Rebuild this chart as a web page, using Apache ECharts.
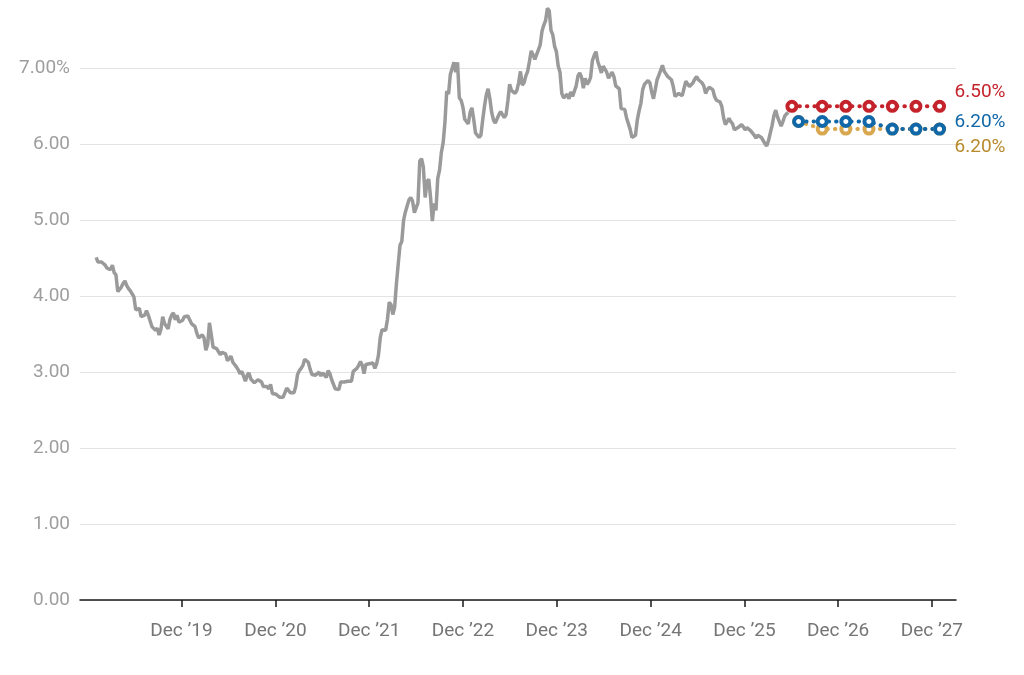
<!DOCTYPE html>
<html>
<head>
<meta charset="utf-8">
<script src="https://cdn.jsdelivr.net/npm/echarts@6/dist/echarts.min.js"></script>
<style>
html, body { margin: 0; padding: 0; background: #fff; }
#main { width: 1024px; height: 675px; }
</style>
</head>
<body>
<div id="main"></div>
<script>
/**
 * 30年固定利率 周数据 + 预测
 */

// weekly rate, one block per year (first Thursday given)
var start2019 = '2019-01-03';
var rates2019 = [4.51, 4.45, 4.45, 4.45, 4.46, 4.41, 4.37, 4.35, 4.35, 4.41, 4.31, 4.28, 4.06,
    4.08, 4.12, 4.17, 4.20, 4.14, 4.10, 4.07, 4.06, 3.99, 3.82, 3.82, 3.84, 3.73,
    3.75, 3.75, 3.81, 3.75, 3.75, 3.60, 3.60, 3.55, 3.58, 3.49, 3.56, 3.73, 3.64,
    3.65, 3.57, 3.69, 3.75, 3.78, 3.69, 3.75, 3.66, 3.68, 3.68, 3.73, 3.73, 3.74];
var start2020 = '2020-01-02';
var rates2020 = [3.72, 3.64, 3.65, 3.60, 3.51, 3.45, 3.47, 3.49, 3.45, 3.29, 3.36, 3.65, 3.50,
    3.33, 3.33, 3.31, 3.33, 3.23, 3.26, 3.28, 3.24, 3.15, 3.18, 3.21, 3.13, 3.13,
    3.07, 3.03, 2.98, 3.01, 2.99, 2.88, 2.96, 2.99, 2.91, 2.93, 2.86, 2.87, 2.90,
    2.88, 2.87, 2.81, 2.80, 2.81, 2.78, 2.84, 2.72, 2.72, 2.71, 2.71, 2.67, 2.66, 2.67];
var start2021 = '2021-01-07';
var rates2021 = [2.65, 2.79, 2.77, 2.73, 2.73, 2.73, 2.81, 2.97, 3.02, 3.05, 3.09, 3.17,
    3.18, 3.13, 3.04, 2.97, 2.98, 2.96, 2.94, 3.00, 2.95, 2.99, 2.96, 2.93, 3.02,
    2.98, 2.90, 2.88, 2.78, 2.80, 2.77, 2.87, 2.86, 2.87, 2.87, 2.88, 2.86, 2.88, 3.01,
    2.99, 3.05, 3.09, 3.14, 3.09, 2.98, 3.10, 3.10, 3.11, 3.10, 3.12, 3.05, 3.11];
var start2022 = '2022-01-06';
var rates2022 = [3.22, 3.45, 3.56, 3.55, 3.55, 3.69, 3.92, 3.89, 3.76, 3.85, 4.16, 4.42, 4.67,
    4.72, 5.00, 5.11, 5.10, 5.27, 5.30, 5.25, 5.10, 5.09, 5.23, 5.78, 5.81, 5.70,
    5.30, 5.51, 5.54, 5.30, 4.99, 5.22, 5.13, 5.55, 5.66, 5.89, 6.02, 6.29, 6.70,
    6.66, 6.92, 6.94, 7.08, 6.95, 7.08, 6.61, 6.58, 6.49, 6.33, 6.31, 6.27, 6.42];
var start2023 = '2023-01-05';
var rates2023 = [6.48, 6.33, 6.15, 6.13, 6.09, 6.12, 6.32, 6.50, 6.65, 6.73, 6.60, 6.42, 6.32,
    6.28, 6.27, 6.39, 6.43, 6.39, 6.35, 6.39, 6.57, 6.79, 6.71, 6.69, 6.67, 6.71,
    6.81, 6.96, 6.78, 6.81, 6.90, 6.96, 7.09, 7.23, 7.18, 7.12, 7.18, 7.19, 7.31,
    7.49, 7.57, 7.63, 7.79, 7.76, 7.50, 7.44, 7.29, 7.22, 7.03, 6.95, 6.67, 6.61];
var start2024 = '2024-01-04';
var rates2024 = [6.62, 6.66, 6.60, 6.69, 6.63, 6.64, 6.77, 6.90, 6.94, 6.88, 6.74, 6.87, 6.79,
    6.82, 6.88, 7.10, 7.17, 7.22, 7.09, 7.02, 6.94, 7.03, 6.99, 6.95, 6.87, 6.86,
    6.95, 6.89, 6.77, 6.78, 6.73, 6.47, 6.49, 6.46, 6.35, 6.35, 6.20, 6.09, 6.08,
    6.12, 6.32, 6.44, 6.54, 6.72, 6.79, 6.78, 6.84, 6.81, 6.69, 6.60, 6.72, 6.85];
var start2025 = '2025-01-02';
var rates2025 = [6.91, 6.93, 7.04, 6.96, 6.95, 6.89, 6.87, 6.85, 6.76, 6.63, 6.65, 6.67, 6.65,
    6.64, 6.62, 6.83, 6.81, 6.76, 6.76, 6.81, 6.86, 6.89, 6.85, 6.84, 6.81, 6.77,
    6.67, 6.72, 6.75, 6.74, 6.72, 6.63, 6.58, 6.58, 6.56, 6.50, 6.35, 6.26, 6.30,
    6.34, 6.30, 6.27, 6.19, 6.17, 6.22, 6.24, 6.26, 6.23, 6.19, 6.22, 6.21, 6.18];
var start2026 = '2026-01-01';
var rates2026 = [6.15, 6.12, 6.08, 6.12, 6.10, 6.09, 6.05, 6.01, 5.98, 6.05, 6.15,
    6.25, 6.38, 6.45, 6.36, 6.30, 6.24, 6.30, 6.37, 6.40, 6.42];

// 预测
var redDates = ['2026-06-04', '2026-09-30', '2026-12-31', '2027-03-31', '2027-06-30', '2027-09-30', '2027-12-31'];
var redRates = [6.5, 6.5, 6.5, 6.5, 6.5, 6.5, 6.5];
var quarterDates = ['2026-06-30', '2026-09-30', '2026-12-31', '2027-03-31', '2027-06-30', '2027-09-30', '2027-12-31'];
var blueRates = [6.3, 6.3, 6.3, 6.3, 6.2, 6.2, 6.2];
var goldRates = [6.3, 6.2, 6.2, 6.2, 6.2, 6.2, 6.2];

// x轴刻度
var tickDates = ['2019-12-01', '2020-12-01', '2021-12-01', '2022-12-01', '2023-12-01',
    '2024-12-01', '2025-12-01', '2026-12-01', '2027-12-01'];

function toTime(s) {
    return echarts.time.parse(s).getTime();
}

function weekly(start, values) {
    var t0 = toTime(start);
    return values.map(function (v, i) {
        return [t0 + i * 7 * 86400000, v];
    });
}

function pairs(dates, values) {
    return dates.map(function (d, i) {
        return [toTime(d), values[i]];
    });
}

var historyData = [].concat(
    weekly(start2019, rates2019), weekly(start2020, rates2020), weekly(start2021, rates2021),
    weekly(start2022, rates2022), weekly(start2023, rates2023), weekly(start2024, rates2024),
    weekly(start2025, rates2025), weekly(start2026, rates2026)
);

var tickValues = tickDates.map(toTime);
var FONT = 'Roboto, "Noto Sans", sans-serif';

function forecast(name, data, color, textColor, dy) {
    return {
        name: name,
        type: 'line',
        data: data,
        symbol: 'circle',
        symbolSize: 9,
        itemStyle: { color: '#fff', borderColor: color, borderWidth: 4 },
        lineStyle: { color: color, width: 4, type: [0.5, 7], cap: 'round' },
        endLabel: {
            show: true,
            formatter: function (p) { return p.value[1].toFixed(2) + '%'; },
            color: textColor,
            fontSize: 19,
            fontFamily: FONT,
            distance: 15,
            offset: [0, dy]
        },
        z: 3
    };
}

var myChart = echarts.init(document.getElementById('main'));
var option = {
    animation: false,
    backgroundColor: '#fff',
    grid: { left: 80, right: 68, top: 0, bottom: 75 },
    xAxis: {
        type: 'value',
        min: toTime('2018-11-01'),
        max: toTime('2028-03-04'),
        axisLine: { show: true, onZero: false, lineStyle: { color: '#1a1a1a', width: 1.5 } },
        axisTick: { show: true, length: 7, customValues: tickValues, lineStyle: { color: '#1a1a1a', width: 1.5 } },
        axisLabel: {
            customValues: tickValues,
            margin: 22,
            color: '#757575',
            fontSize: 19,
            fontFamily: FONT,
            formatter: function (v) {
                return 'Dec \u2019' + String(new Date(v).getFullYear()).slice(2);
            }
        },
        splitLine: { show: false }
    },
    yAxis: {
        type: 'value',
        min: 0,
        max: 7.9,
        interval: 1,
        axisLine: { show: false },
        axisTick: { show: false },
        axisLabel: {
            showMaxLabel: false,
            margin: 10,
            color: '#9e9e9e',
            fontSize: 19,
            fontFamily: FONT,
            formatter: function (v) {
                return v === 7 ? '7.00%' : v.toFixed(2);
            }
        },
        splitLine: { showMaxLine: false, lineStyle: { color: '#e3e3e3', width: 1 } }
    },
    series: [
        {
            name: 'history',
            type: 'line',
            data: historyData,
            symbol: 'none',
            lineStyle: { color: '#9a9a9a', width: 3.5 },
            z: 2
        },
        forecast('gold', pairs(quarterDates, goldRates), '#d9a74e', '#b88a2c', 18),
        forecast('blue', pairs(quarterDates, blueRates), '#1168a8', '#1168a8', -7),
        forecast('red', pairs(redDates, redRates), '#c4232b', '#c4232b', -14)
    ]
};
myChart.setOption(option, true);
</script>
</body>
</html>
